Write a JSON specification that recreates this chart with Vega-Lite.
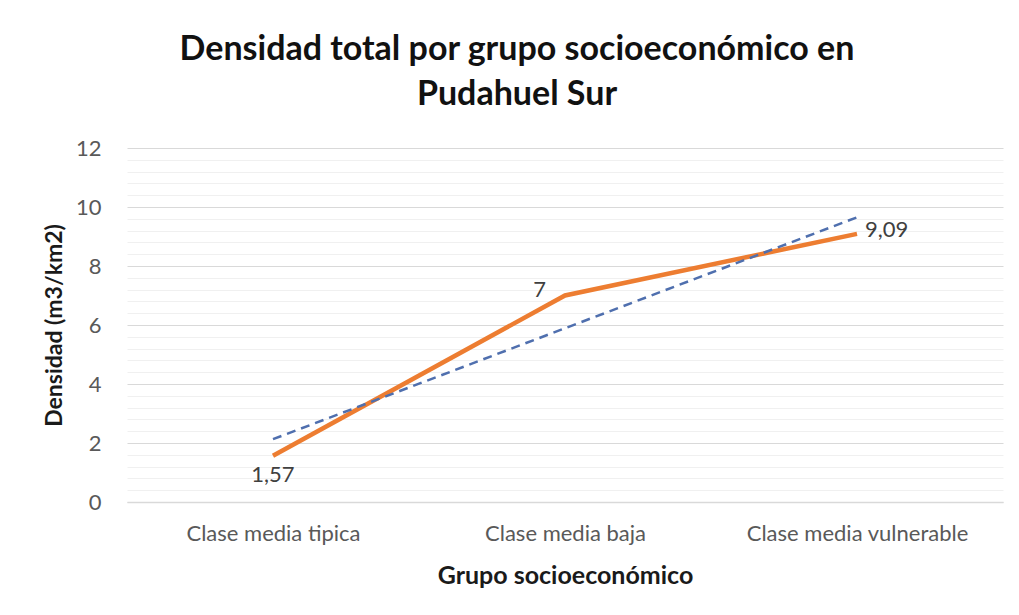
{
  "$schema": "https://vega.github.io/schema/vega-lite/v6.json",
  "width": 876,
  "height": 354,
  "autosize": {"type": "none"},
  "padding": {"left": 127, "top": 148, "right": 16, "bottom": 113},
  "background": "white",
  "config": {
    "font": "Lato",
    "view": {"stroke": null},
    "locale": {"number": {"decimal": ",", "thousands": ".", "grouping": [3], "currency": ["$", ""]}}
  },
  "title": {
    "text": ["Densidad total por grupo socioeconómico en", "Pudahuel Sur"],
    "fontSize": 34,
    "fontWeight": "bold",
    "color": "#111111",
    "lineHeight": 45,
    "anchor": "middle",
    "dx": -48,
    "offset": 25
  },
  "data": {
    "values": [
      {"grupo": "Clase media tipica", "densidad": 1.57, "tendencia": 2.13},
      {"grupo": "Clase media baja", "densidad": 7, "tendencia": 5.89},
      {"grupo": "Clase media vulnerable", "densidad": 9.09, "tendencia": 9.65}
    ]
  },
  "encoding": {
    "x": {
      "field": "grupo",
      "type": "nominal",
      "sort": null,
      "scale": {"type": "point", "padding": 0.5},
      "axis": {
        "title": "Grupo socioeconómico",
        "titleFontSize": 25,
        "titleFontWeight": "bold",
        "titleColor": "#1a1a1a",
        "titlePadding": 19,
        "labelFontSize": 22,
        "labelColor": "#595959",
        "labelPadding": 21,
        "labelAngle": 0,
        "labelLimit": 0,
        "ticks": false,
        "domainColor": "#D9D9D9",
        "domainWidth": 1.5,
        "grid": false
      }
    }
  },
  "layer": [
    {
      "mark": {"type": "rule", "opacity": 0},
      "encoding": {
        "y": {
          "field": "densidad",
          "type": "quantitative",
          "scale": {"domain": [0, 12], "nice": false},
          "axis": {
            "orient": "left",
            "title": null,
            "values": [0.4, 0.8, 1.2, 1.6, 2.4, 2.8, 3.2, 3.6, 4.4, 4.8, 5.2, 5.6, 6.4, 6.8, 7.2, 7.6, 8.4, 8.8, 9.2, 9.6, 10.4, 10.8, 11.2, 11.6],
            "labels": false,
            "ticks": false,
            "domain": false,
            "grid": true,
            "gridColor": "#F0F0F0",
            "gridWidth": 1
          }
        }
      }
    },
    {
      "mark": {"type": "rule", "opacity": 0},
      "encoding": {
        "y": {
          "field": "densidad",
          "type": "quantitative",
          "axis": {
            "orient": "left",
            "title": "Densidad (m3/km2)",
            "titleFontSize": 23,
            "titleFontWeight": "bold",
            "titleColor": "#1a1a1a",
            "titlePadding": 9,
            "values": [0, 2, 4, 6, 8, 10, 12],
            "labelFontSize": 22,
            "labelColor": "#595959",
            "labelPadding": 26,
            "ticks": false,
            "domain": false,
            "grid": true,
            "gridColor": "#D9D9D9",
            "gridWidth": 1.2
          }
        }
      }
    },
    {
      "mark": {"type": "line", "color": "#ED7D31", "strokeWidth": 4.5},
      "encoding": {
        "y": {"field": "densidad", "type": "quantitative", "axis": null}
      }
    },
    {
      "mark": {"type": "line", "color": "#4F6FAE", "strokeWidth": 2.5, "strokeDash": [9, 6]},
      "encoding": {
        "y": {"field": "tendencia", "type": "quantitative", "axis": null}
      }
    },
    {
      "transform": [{"filter": "datum.grupo === 'Clase media tipica'"}],
      "mark": {"type": "text", "fontSize": 22, "color": "#404040", "baseline": "middle", "dy": 19},
      "encoding": {
        "y": {"field": "densidad", "type": "quantitative", "axis": null},
        "text": {"field": "densidad", "type": "quantitative", "format": ".3~r"}
      }
    },
    {
      "transform": [{"filter": "datum.grupo === 'Clase media baja'"}],
      "mark": {"type": "text", "fontSize": 22, "color": "#404040", "baseline": "middle", "align": "right", "dx": -19, "dy": -6},
      "encoding": {
        "y": {"field": "densidad", "type": "quantitative", "axis": null},
        "text": {"field": "densidad", "type": "quantitative", "format": ".3~r"}
      }
    },
    {
      "transform": [{"filter": "datum.grupo === 'Clase media vulnerable'"}],
      "mark": {"type": "text", "fontSize": 22, "color": "#404040", "baseline": "middle", "align": "left", "dx": 8, "dy": -4},
      "encoding": {
        "y": {"field": "densidad", "type": "quantitative", "axis": null},
        "text": {"field": "densidad", "type": "quantitative", "format": ".3~r"}
      }
    }
  ],
  "resolve": {"axis": {"y": "independent"}}
}
